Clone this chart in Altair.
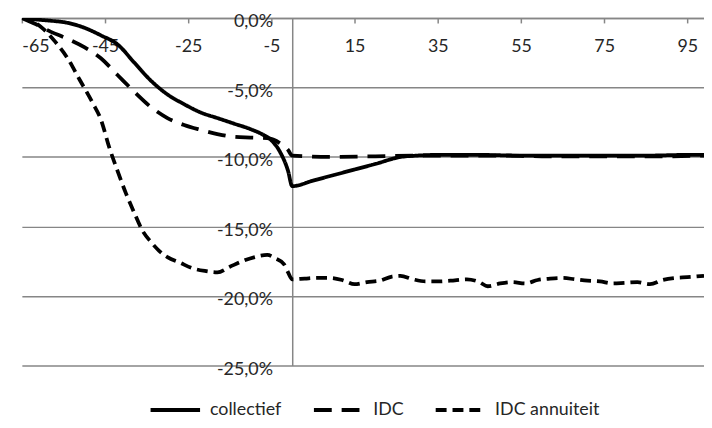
import altair as alt
import pandas as pd

# ---- data ----
x_ticks = [-65, -45, -25, -5, 15, 35, 55, 75, 95]
y_ticks = [0, -0.05, -0.10, -0.15, -0.20, -0.25]
series_names = ["collectief", "IDC", "IDC annuiteit"]

collectief_x = [-65, -62, -58, -54, -50, -46, -42, -38, -34, -30, -26, -22, -18, -14, -10, -7, -5, -3, -1, 0,
                5, 10, 15, 20, 26, 30, 35, 45, 55, 65, 75, 85, 95, 99]
collectief_y = [0, -0.1, -0.2, -0.35, -0.7, -1.25, -1.9, -3.2, -4.5, -5.5, -6.2, -6.8, -7.2, -7.6, -8.0, -8.4, -8.8,
                -9.6, -11.0, -12.1, -11.7, -11.3, -10.9, -10.5, -10.0, -9.9, -9.85, -9.85, -9.9, -9.9, -9.9, -9.9,
                -9.85, -9.85]

idc_x = [-65, -62, -58, -54, -50, -46, -42, -38, -34, -30, -26, -22, -18, -14, -10, -6, -3, -1, 0,
         10, 20, 30, 40, 50, 60, 70, 80, 90, 99]
idc_y = [0, -0.4, -1.0, -1.5, -2.1, -2.9, -4.1, -5.3, -6.4, -7.2, -7.7, -8.05, -8.35, -8.55, -8.6, -8.65, -9.0,
         -9.5, -9.9, -10.0, -9.95, -9.9, -9.9, -9.9, -9.95, -9.95, -9.95, -9.95, -9.9]

ann_x = [-65, -62, -60, -57, -54, -51, -48, -46, -44, -42, -40, -38, -36, -34, -32, -30, -27, -24, -21, -18,
         -15, -12, -9, -6, -4, -2, -1, 0, 3, 6, 9, 12, 15, 18, 21, 24, 26, 29, 32, 35, 38, 42, 45, 47, 50,
         53, 56, 59, 62, 65, 68, 71, 74, 77, 80, 83, 86, 89, 92, 95, 99]
ann_y = [0, -0.3, -0.75, -1.7, -2.9, -4.5, -6.1, -7.3, -9.3, -11.0, -12.6, -14.0, -15.3, -16.1, -16.75, -17.2,
         -17.6, -18.0, -18.2, -18.3, -17.9, -17.5, -17.2, -17.05, -17.3, -17.7, -18.3, -18.8, -18.75, -18.7,
         -18.7, -18.85, -19.15, -19.0, -18.9, -18.6, -18.55, -18.8, -18.95, -18.95, -18.9, -18.8, -19.0, -19.3,
         -19.1, -19.0, -19.1, -18.85, -18.75, -18.7, -18.8, -18.9, -18.95, -19.1, -19.05, -19.0, -19.15, -18.85,
         -18.7, -18.65, -18.55]

rows = []
for name, xs, ys in zip(series_names, [collectief_x, idc_x, ann_x], [collectief_y, idc_y, ann_y]):
    for xv, yv in zip(xs, ys):
        rows.append({"jaar": xv, "waarde": yv / 100.0, "reeks": name})
df = pd.DataFrame(rows)

W = 689
H = 351
x_min, x_max = -65, 99
x0_px = (0 - x_min) / (x_max - x_min) * W

FONT = "Lato"
FS = 18
TXT = "#262626"
GRID = "#868686"

y_label_expr = "replace(replace(format(datum.value, '.1%'), '.', ','), '\u2212', '-')"

chart = alt.Chart(df).mark_line(
    color="black", strokeWidth=3.8, strokeCap="butt", interpolate="monotone", clip=True
).encode(
    x=alt.X(
        "jaar:Q",
        scale=alt.Scale(domain=[x_min, x_max], nice=False, zero=False),
        axis=alt.Axis(
            orient="bottom", offset=-H, values=x_ticks, labelExpr="'' + datum.value",
            grid=False, domainColor=GRID, domainWidth=1.5, tickColor=GRID, tickSize=5, tickWidth=1.5,
            labelPadding=15, labelFont=FONT, labelFontSize=FS, labelColor=TXT, title=None,
        ),
    ),
    y=alt.Y(
        "waarde:Q",
        scale=alt.Scale(domain=[-0.25, 0], nice=False, zero=False),
        axis=alt.Axis(
            orient="left", offset=-x0_px, values=y_ticks, labelExpr=y_label_expr,
            grid=True, gridColor=GRID, gridWidth=1.5, ticks=False,
            domainColor=GRID, domainWidth=1.5,
            labelPadding=20, labelOffset=4, labelFont=FONT, labelFontSize=FS, labelColor=TXT, title=None,
        ),
    ),
    strokeDash=alt.StrokeDash(
        "reeks:N",
        scale=alt.Scale(domain=series_names, range=[[1, 0], [18, 10], [11, 6]]),
        legend=alt.Legend(
            orient="none", legendX=128, legendY=369, direction="horizontal", title=None,
            symbolType="stroke", symbolSize=2500, symbolStrokeWidth=4, symbolStrokeColor="black",
            labelFont=FONT, labelFontSize=FS, labelColor=TXT, columnPadding=24, labelOffset=8,
        ),
    ),
).properties(
    width=W,
    height=H,
    autosize=alt.AutoSizeParams(type="none"),
    padding={"left": 14, "top": 8, "right": 0, "bottom": 55},
    background="white",
).configure_view(stroke=None)

chart.save("out.html", embed_options={"renderer": "svg", "actions": False})
